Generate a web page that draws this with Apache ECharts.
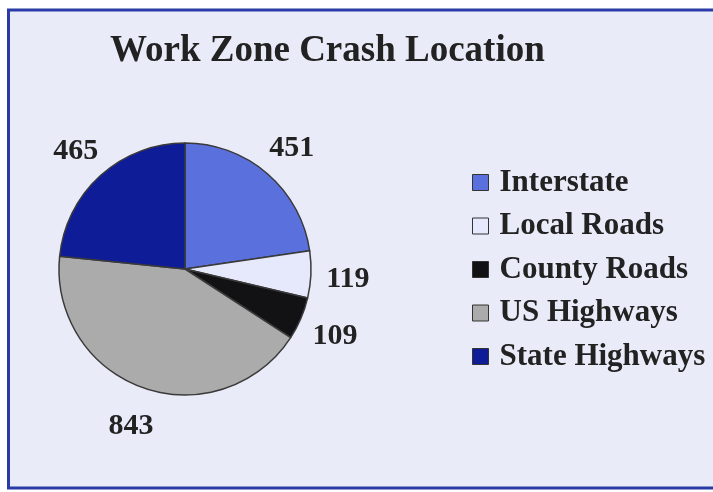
<!DOCTYPE html>
<html>
<head>
<meta charset="utf-8">
<script src="https://cdn.jsdelivr.net/npm/echarts@6/dist/echarts.min.js"></script>
<style>
  html, body { margin: 0; padding: 0; background: #fff; }
  #main { width: 713px; height: 492px; }
</style>
</head>
<body>
<div id="main"></div>
<script>
// crash counts by location type
var categories = ['Interstate', 'Local Roads', 'County Roads', 'US Highways', 'State Highways'];
var crashCounts = [451, 119, 109, 843, 465];
var sliceColors = ['#5a70dc', '#e6e9fb', '#121214', '#ababab', '#0f1c98'];

var pieData = categories.map(function (name, i) {
    return { name: name, value: crashCounts[i], itemStyle: { color: sliceColors[i] } };
});
// same values again, only used to place the value labels around the pie
var labelData = categories.map(function (name, i) {
    return { name: name, value: crashCounts[i] };
});

var labelFont = {
    fontFamily: 'Liberation Serif',
    fontWeight: 'bold',
    fontSize: 30,
    color: '#222'
};

var myChart = echarts.init(document.getElementById('main'));

var option = {
    backgroundColor: '#ffffff',
    animation: false,
    graphic: [
        {
            type: 'rect',
            z: -10,
            shape: { x: 8.5, y: 10, width: 730, height: 478 },
            style: { fill: '#e9ecf8', stroke: '#2a3aa6', lineWidth: 3 }
        }
    ],
    title: {
        text: 'Work Zone Crash Location',
        left: 105,
        top: 28,
        textStyle: {
            fontFamily: 'Liberation Serif',
            fontWeight: 'bold',
            fontSize: 37,
            color: '#222'
        }
    },
    legend: {
        orient: 'vertical',
        left: 467,
        top: 162,
        icon: 'rect',
        itemWidth: 16,
        itemHeight: 16,
        itemGap: 12.5,
        itemStyle: { borderColor: '#333', borderWidth: 1 },
        textStyle: {
            fontFamily: 'Liberation Serif',
            fontWeight: 'bold',
            fontSize: 31,
            lineHeight: 30,
            color: '#222',
            padding: [0, 0, 0, 6]
        },
        data: categories
    },
    series: [
        {
            name: 'Work Zone Crash Location',
            type: 'pie',
            center: [185, 269],
            radius: 126,
            startAngle: 90,
            clockwise: true,
            data: pieData,
            itemStyle: { borderColor: '#3a3a3a', borderWidth: 1.5 },
            label: { show: false },
            labelLine: { show: false }
        },
        {
            name: 'labels',
            type: 'pie',
            center: [185, 272],
            radius: [146, 174],
            startAngle: 90,
            clockwise: true,
            silent: true,
            data: labelData,
            itemStyle: { color: 'rgba(0,0,0,0)', borderWidth: 0 },
            label: Object.assign({
                show: true,
                position: 'inside',
                formatter: '{c}'
            }, labelFont),
            labelLine: { show: false }
        }
    ]
};
myChart.setOption(option);
</script>
</body>
</html>
